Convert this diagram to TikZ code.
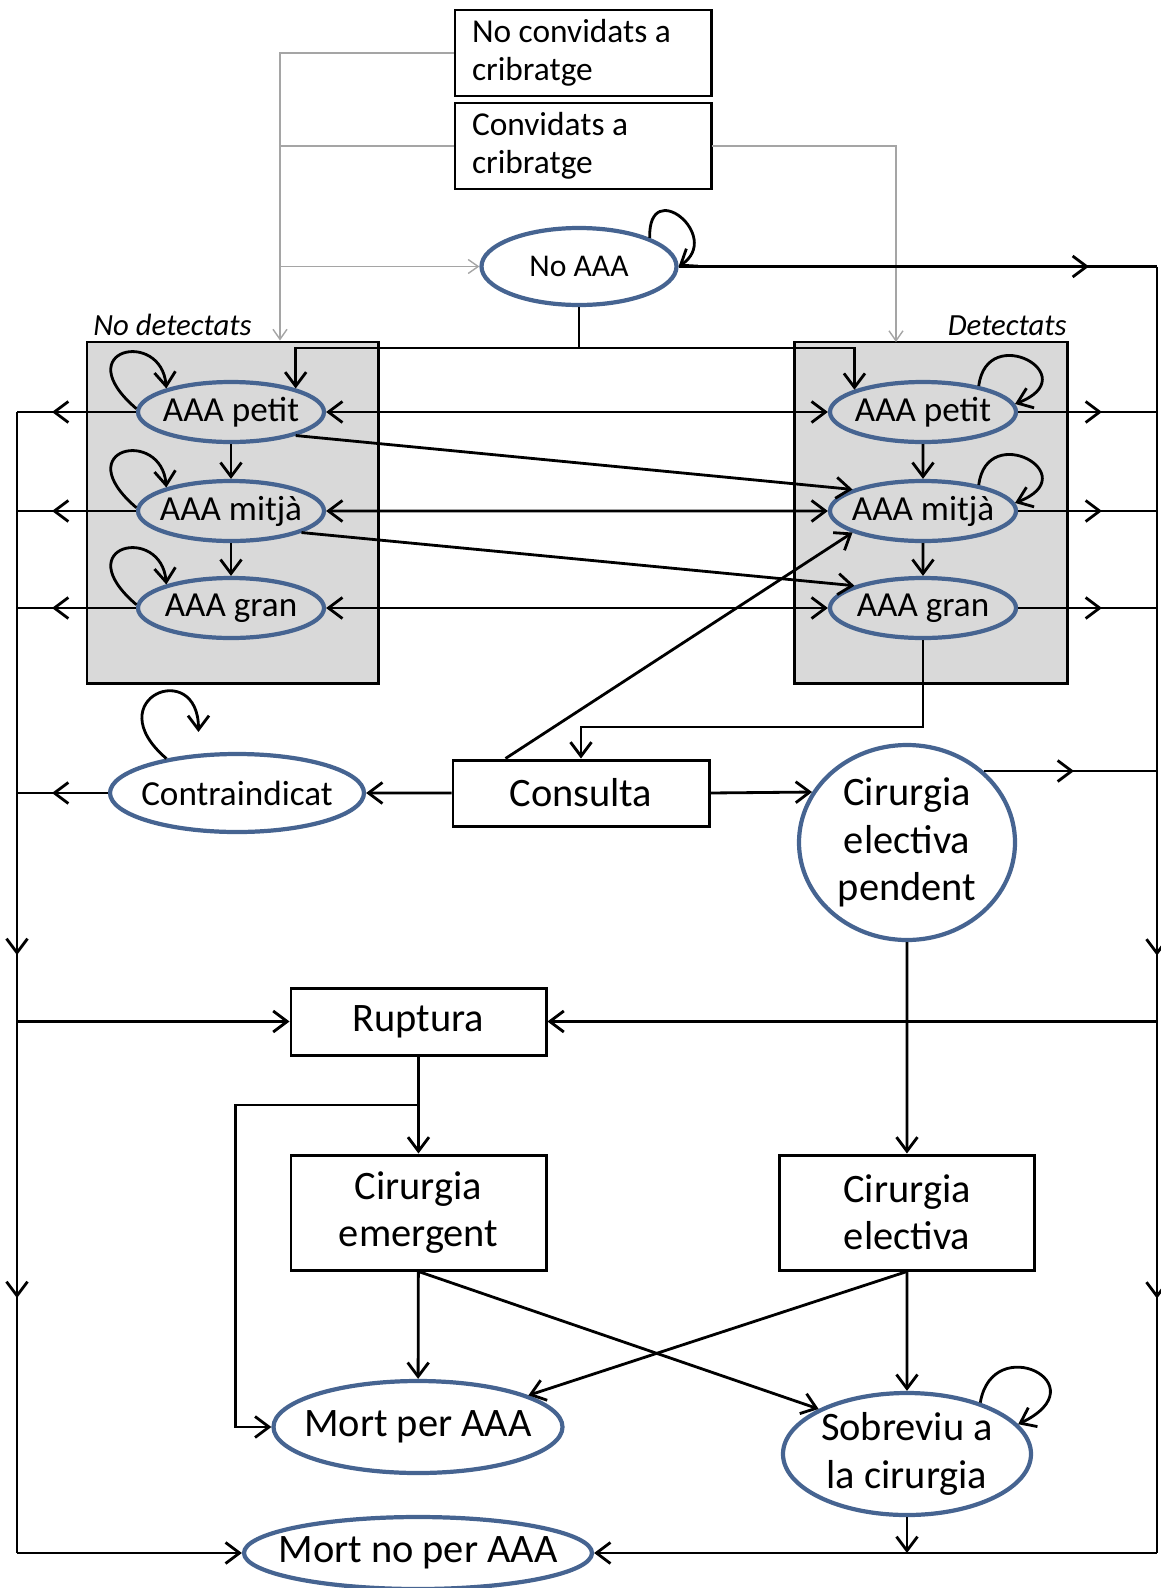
\documentclass[tikz,border=0pt]{standalone}
\usepackage{fontspec}
\setmainfont{Carlito}
\usepackage{xcolor}
\usepackage{tikz}
\usetikzlibrary{shapes.geometric,arrows.meta,calc,decorations.markings}

\definecolor{stateblue}{RGB}{70,100,145}
\definecolor{boxgray}{RGB}{217,217,217}
\definecolor{linkgray}{RGB}{165,165,165}

\tikzset{tipat/.style={postaction={decorate,decoration={markings,mark=at position #1 with {\arrow{>}}}}}}

\begin{document}
\begin{tikzpicture}[scale=0.2,>={Straight Barb[length=2.8mm,width=4.2mm]}]
                \tikzstyle{every node}+=[inner sep=0pt]
                \tikzstyle{state}=[ellipse, draw=stateblue, line width=2.4pt, inner sep=-1cm, align=center, font=\fontsize{23}{27}\selectfont]
                \tikzstyle{aaa}=[ellipse, draw=stateblue, line width=2.4pt, inner sep=-1cm, minimum width=3.72cm, minimum height=1.2cm, font=\fontsize{20}{24}\selectfont]
                \tikzstyle{event}=[rectangle, draw=black, line width=1.7pt, align=center, minimum width=5.1cm, font=\fontsize{23}{27}\selectfont]
                \tikzstyle{invite}=[rectangle, draw=black, line width=1.7pt, minimum width=5.12cm, minimum height=1.72cm, text width=4.44cm, align=flush left, font=\fontsize{19}{21.5}\selectfont]
                \tikzstyle{group}=[rectangle, draw=black, fill=boxgray, line width=1.7pt, minimum height=6.82cm]
                \tikzstyle{grouplabel}=[font=\fontsize{17.5}{20}\selectfont\itshape]
                \tikzstyle{link}=[black, line width=1.6pt]
                \tikzstyle{graylink}=[linkgray, line width=0.8pt, >={Straight Barb[length=2mm,width=2.8mm]}]
                \useasboundingbox (0,0) rectangle (116.1,-158.8);
                % screening boxes
                \node[invite] (nocv) at (58.3,-5.3) {No convidats a\\cribratge};
                \node[invite] (cv) at (58.3,-14.6) {Convidats a\\cribratge};
                \node[state, font=\fontsize{18}{22}\selectfont, minimum width=3.9cm, minimum height=1.54cm] (noaaa) at (57.9,-26.65) {No AAA};
                % groups
                \node[group, minimum width=5.82cm] (ndbox) at (23.25,-51.25) {};
                \node[group, minimum width=5.46cm] (dbox) at (93.05,-51.25) {};
                \node[grouplabel, anchor=base west] (ndlabel) at (9.3,-33.5) {No detectats};
                \node[grouplabel, anchor=base east] (dlabel) at (106.7,-33.5) {Detectats};
                \node[aaa] (lp) at (23.1,-41.2) {AAA petit};
                \node[aaa] (lm) at (23.1,-51.1) {AAA mitjà};
                \node[aaa] (lg) at (23.1,-60.8) {AAA gran};
                \node[aaa] (rp) at (92.3,-41.2) {AAA petit};
                \node[aaa] (rm) at (92.3,-51.1) {AAA mitjà};
                \node[aaa] (rg) at (92.3,-60.8) {AAA gran};
                % treatment
                \node[state, font=\fontsize{20}{24}\selectfont, minimum width=5.08cm, minimum height=1.56cm] (contra) at (23.7,-79.3) {Contraindicat};
                \node[event, minimum width=5.12cm, minimum height=1.32cm] (consulta) at (58.1,-79.3) {Consulta};
                \node[state, minimum width=4.32cm, minimum height=3.9cm] (cep) at (90.7,-84.25) {Cirurgia\\electiva\\pendent};
                \node[event, minimum height=1.34cm] (ruptura) at (41.85,-102.15) {Ruptura};
                \node[event, minimum height=2.3cm] (cemerg) at (41.85,-121.25) {Cirurgia\\emergent};
                \node[event, minimum height=2.3cm] (celect) at (90.7,-121.25) {Cirurgia\\electiva};
                \node[state, minimum width=5.78cm, minimum height=1.84cm] (mortaaa) at (41.8,-142.7) {Mort per AAA};
                \node[state, minimum width=4.96cm, minimum height=2.44cm] (sobrev) at (90.7,-145.4) {Sobreviu a\\la cirurgia};
                \node[state, minimum width=6.96cm, minimum height=1.44cm] (mortno) at (41.8,-155.3) {Mort no per AAA};
                % helper points
                \coordinate (lt) at (1.7,-41.2);
                \coordinate (lb) at (1.7,-155.3);
                \coordinate (rt) at (115.7,-26.65);
                \coordinate (rb) at (115.7,-155.3);
                \coordinate (jm) at (57.9,-34.8);
                \coordinate (gl) at (28.0,-5.3);
                \coordinate (gr) at (89.6,-34.2);
                \coordinate (gk) at (92.3,-72.7);
                \coordinate (rk) at (41.85,-110.5);
                \coordinate (rk2) at (23.55,-110.5);
                \coordinate (cl) at (19.85,-73.2);
                % gray links
                \draw[graylink,->] (nocv.west) -- (gl) -- (gl |- ndbox.north);
                \draw[graylink] (cv.west) -- (cv.west -| gl);
                \draw[graylink,->] (gl |- noaaa.west) -- (noaaa.west);
                \draw[graylink,->] (cv.east) -| (gr);
                % from No AAA
                \draw[link] (noaaa.south) -- (jm);
                \draw[link,->] (jm) -| (lp.20);
                \draw[link,->] (jm) -| (rp.162);
                \draw[link,->] (noaaa.22) .. controls +(-0.2,6.3) and +(4.5,3.0) .. (noaaa.east);
                \draw[link,tipat=-1.36cm] (noaaa.east) -- (noaaa.east -| rt);
                % self loops
                \draw[link,->] (lp.178) .. controls +(-7,6) and +(-0.5,6) .. (lp.160);
                \draw[link,->] (lm.178) .. controls +(-7,6) and +(-0.5,6) .. (lm.160);
                \draw[link,->] (lg.178) .. controls +(-7,6) and +(-0.5,6) .. (lg.160);
                \draw[link,->] (rp.25) .. controls +(0.8,6.5) and +(7.2,2.8) .. (rp.5);
                \draw[link,->] (rm.25) .. controls +(0.8,6.5) and +(7.2,2.8) .. (rm.5);
                \draw[link,->] (contra.154) .. controls +(-7,6) and +(0,7.5) .. (cl);
                \draw[link,->] (sobrev.35) .. controls +(1.2,7.2) and +(8.3,4.0) .. (sobrev.15);
                % growth
                \draw[link,->] (lp) -- (lm);
                \draw[link,->] (lm) -- (lg);
                \draw[link,->] (rp) -- (rm);
                \draw[link,->] (rm) -- (rg);
                \draw[link,<->] (lp) -- (rp);
                \draw[link,<->] (lm) -- (rm);
                \draw[link,<->] (lg) -- (rg);
                \draw[link,->] (lp.340) -- (rm.163);
                \draw[link,->] (lm.343) -- (rg.162);
                % to the side lines
                \draw[link,tipat=-0.7cm] (lp.west) -- (lp.west -| lt);
                \draw[link,tipat=-0.7cm] (lm.west) -- (lm.west -| lt);
                \draw[link,tipat=-0.7cm] (lg.west) -- (lg.west -| lt);
                \draw[link,tipat=-0.7cm] (contra.west) -- (contra.west -| lt);
                \draw[link,tipat=-1.1cm] (rp.east) -- (rp.east -| rt);
                \draw[link,tipat=-1.1cm] (rm.east) -- (rm.east -| rt);
                \draw[link,tipat=-1.1cm] (rg.east) -- (rg.east -| rt);
                \draw[link,tipat=-1.66cm] (cep.43) -- (cep.43 -| rt);
                \draw[link,tipat=10.86cm,tipat=17.72cm] (lt) -- (lb);
                \draw[link,tipat=13.78cm,tipat=20.64cm] (rt) -- (rb);
                % consultation
                \draw[link,->] (rg.south) -- (gk) -| (consulta.north);
                \draw[link,->] ($(consulta.north west)+(5.4,0)$) -- (rm.197);
                \draw[link,->] (consulta) -- (contra);
                \draw[link,->] (consulta.east) -- (cep.152);
                \draw[link,->] (cep) -- (celect);
                % rupture
                \draw[link,->] (ruptura.west -| lt) -- (ruptura.west);
                \draw[link,->] (ruptura.east -| rt) -- (ruptura.east);
                \draw[link,->] (ruptura) -- (cemerg);
                \draw[link,->] (rk) -- (rk2) |- (mortaaa.west);
                % surgery outcomes
                \draw[link,->] (cemerg) -- (mortaaa);
                \draw[link,->] (cemerg.south) -- (sobrev.153);
                \draw[link,->] (celect.south) -- (mortaaa.16);
                \draw[link,->] (celect) -- (sobrev);
                \draw[link,->] (sobrev.south) -- (sobrev.south |- mortno);
                \draw[link,->] (lb) -- (mortno.west);
                \draw[link,->] (rb) -- (mortno.east);
\end{tikzpicture}
\end{document}
